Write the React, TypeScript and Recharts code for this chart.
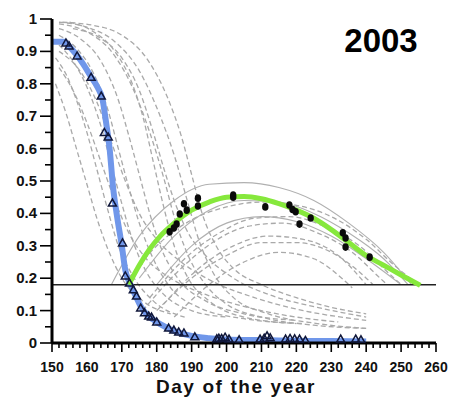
import React from "react";
import { ComposedChart, Line, Scatter, XAxis, YAxis, ReferenceLine } from "recharts";

type P = { x: number; y: number };

const xTicks = [150,152,154,156,158,160,162,164,166,168,170,172,174,176,178,180,182,184,186,188,190,192,194,196,198,200,202,204,206,208,210,212,214,216,218,220,222,224,226,228,230,232,234,236,238,240,242,244,246,248,250,252,254,256,258,260];
const yTicks = [0,0.05,0.1,0.15,0.2,0.25,0.3,0.35,0.4,0.45,0.5,0.55,0.6,0.65,0.7,0.75,0.8,0.85,0.9,0.95,1];
const thresholdValue = 0.18;
const yearTitle = "2003";
const xAxisTitle = "Day of the year";

const blueCurve: P[] = [
  {x:150,y:0.93},{x:153.5,y:0.93},{x:155,y:0.915},{x:157,y:0.89},{x:159,y:0.86},{x:161,y:0.825},{x:163,y:0.79},{x:164.5,y:0.75},{x:165.5,y:0.68},{x:166.5,y:0.6},{x:167.5,y:0.48},{x:168.5,y:0.4},{x:170,y:0.3},{x:171,y:0.225},{x:172.5,y:0.18},{x:174,y:0.145},{x:175.5,y:0.112},{x:177,y:0.09},{x:179,y:0.072},{x:181,y:0.058},{x:184,y:0.042},{x:187,y:0.03},{x:190,y:0.022},{x:195,y:0.015},{x:200,y:0.011},{x:210,y:0.009},{x:220,y:0.007},{x:230,y:0.006},{x:240,y:0.005}
];

const greenCurve: P[] = [
  {x:172,y:0.18},{x:175,y:0.24},{x:178,y:0.29},{x:181,y:0.33},{x:185,y:0.37},{x:190,y:0.41},{x:195,y:0.435},{x:200,y:0.45},{x:205,y:0.452},{x:210,y:0.445},{x:215,y:0.43},{x:220,y:0.41},{x:225,y:0.385},{x:230,y:0.35},{x:235,y:0.31},{x:240,y:0.27},{x:245,y:0.24},{x:250,y:0.21},{x:255.5,y:0.178}
];

const blueTriangles: P[] = [
  {x:154,y:0.926},{x:154.9,y:0.917},{x:157.2,y:0.886},{x:161.2,y:0.82},{x:164.1,y:0.762},{x:165,y:0.65},{x:166.1,y:0.636},{x:167.3,y:0.432},{x:170.2,y:0.309},{x:171,y:0.207},{x:172.2,y:0.185},{x:173.3,y:0.164},{x:174.2,y:0.145},{x:175.4,y:0.108},{x:176.5,y:0.093},{x:177.7,y:0.083},{x:178.5,y:0.08},{x:180,y:0.065},{x:183.4,y:0.046},{x:184.9,y:0.04},{x:186.3,y:0.034},{x:187.8,y:0.031},{x:190.9,y:0.019},{x:197.2,y:0.013},{x:197.8,y:0.015},{x:198.6,y:0.014},{x:199.6,y:0.018},{x:200.7,y:0.012},{x:203.6,y:0.01},{x:209.6,y:0.012},{x:210.8,y:0.015},{x:211.6,y:0.022},{x:212.5,y:0.016},{x:216.9,y:0.012},{x:218.2,y:0.014},{x:219.5,y:0.013},{x:220.9,y:0.012},{x:222.6,y:0.008},{x:232.7,y:0.012},{x:237,y:0.012},{x:238.5,y:0.01}
];

const blackDots: P[] = [
  {x:183.7,y:0.343},{x:184.9,y:0.355},{x:185.7,y:0.367},{x:186.6,y:0.398},{x:187.8,y:0.43},{x:188.6,y:0.41},{x:191.8,y:0.447},{x:191.8,y:0.423},{x:201.9,y:0.457},{x:201.9,y:0.45},{x:211.1,y:0.42},{x:218,y:0.426},{x:218.9,y:0.412},{x:219.8,y:0.405},{x:220.9,y:0.367},{x:224.1,y:0.386},{x:233.3,y:0.34},{x:234.1,y:0.324},{x:234.1,y:0.296},{x:241,y:0.265}
];

const greyDeclines: P[][] = [
  [{x:152,y:0.99},{x:160,y:0.975},{x:168,y:0.93},{x:175,y:0.84},{x:181,y:0.7},{x:185,y:0.58},{x:189,y:0.43},{x:192,y:0.32},{x:196,y:0.22},{x:202,y:0.14},{x:212,y:0.09},{x:226,y:0.06},{x:240,y:0.045}],
  [{x:152,y:0.985},{x:160,y:0.96},{x:167,y:0.9},{x:173,y:0.79},{x:178,y:0.65},{x:182,y:0.51},{x:185,y:0.39},{x:189,y:0.27},{x:194,y:0.18},{x:200,y:0.12},{x:210,y:0.08},{x:225,y:0.055},{x:240,y:0.045}],
  [{x:155,y:0.99},{x:162,y:0.96},{x:168,y:0.9},{x:173,y:0.8},{x:176,y:0.7},{x:179,y:0.56},{x:182,y:0.42},{x:185,y:0.3},{x:189,y:0.2},{x:195,y:0.13},{x:205,y:0.08},{x:220,y:0.06}],
  [{x:152,y:0.97},{x:158,y:0.94},{x:164,y:0.87},{x:169,y:0.75},{x:172,y:0.64},{x:175,y:0.52},{x:178,y:0.4},{x:181,y:0.3},{x:186,y:0.2},{x:194,y:0.13},{x:205,y:0.09},{x:220,y:0.07}],
  [{x:152,y:0.95},{x:157,y:0.91},{x:162,y:0.83},{x:166,y:0.72},{x:169,y:0.6},{x:172,y:0.48},{x:175,y:0.37},{x:179,y:0.26},{x:184,y:0.17},{x:192,y:0.11},{x:205,y:0.075},{x:222,y:0.06}],
  [{x:152,y:0.92},{x:156,y:0.87},{x:160,y:0.79},{x:164,y:0.67},{x:167,y:0.55},{x:170,y:0.43},{x:173,y:0.32},{x:177,y:0.22},{x:182,y:0.15},{x:190,y:0.1},{x:200,y:0.08}],
  [{x:151,y:0.88},{x:154,y:0.83},{x:157,y:0.75},{x:160,y:0.65},{x:163,y:0.53},{x:166,y:0.41},{x:169,y:0.3},{x:173,y:0.21},{x:179,y:0.13},{x:188,y:0.08}],
  [{x:151,y:0.8},{x:154,y:0.71},{x:157,y:0.6},{x:160,y:0.49},{x:163,y:0.38},{x:166,y:0.29},{x:170,y:0.2},{x:176,y:0.13},{x:184,y:0.09}],
  [{x:153,y:0.99},{x:162,y:0.98},{x:170,y:0.95},{x:177,y:0.88},{x:183,y:0.76},{x:187,y:0.64},{x:190,y:0.52},{x:193,y:0.4},{x:197,y:0.3},{x:202,y:0.23},{x:210,y:0.18},{x:220,y:0.14},{x:230,y:0.11},{x:240,y:0.09}],
  [{x:156,y:0.97},{x:164,y:0.94},{x:170,y:0.88},{x:175,y:0.78},{x:179,y:0.65},{x:182,y:0.54},{x:185,y:0.44},{x:189,y:0.34},{x:194,y:0.27},{x:202,y:0.2},{x:212,y:0.15},{x:226,y:0.11},{x:240,y:0.08}],
  [{x:152,y:0.9},{x:158,y:0.84},{x:163,y:0.74},{x:167,y:0.62},{x:171,y:0.5},{x:175,y:0.4},{x:180,y:0.32},{x:187,y:0.25},{x:196,y:0.19},{x:208,y:0.14},{x:222,y:0.1},{x:240,y:0.07}],
  [{x:152,y:0.85},{x:156,y:0.78},{x:160,y:0.68},{x:164,y:0.56},{x:168,y:0.44},{x:172,y:0.34},{x:177,y:0.26},{x:184,y:0.2},{x:194,y:0.15},{x:206,y:0.11},{x:220,y:0.08},{x:232,y:0.065}]
];

const greyDashedArches: P[][] = [
  [{x:172,y:0.2},{x:180,y:0.3},{x:190,y:0.38},{x:200,y:0.42},{x:210,y:0.435},{x:220,y:0.425},{x:230,y:0.39},{x:240,y:0.32},{x:248,y:0.24},{x:255,y:0.18}],
  [{x:176,y:0.1},{x:186,y:0.22},{x:196,y:0.31},{x:206,y:0.36},{x:216,y:0.37},{x:226,y:0.34},{x:236,y:0.28},{x:244,y:0.2},{x:246,y:0.18}],
  [{x:178,y:0.14},{x:188,y:0.26},{x:198,y:0.34},{x:208,y:0.385},{x:218,y:0.39},{x:228,y:0.36},{x:238,y:0.3},{x:246,y:0.22},{x:250,y:0.18}],
  [{x:182,y:0.12},{x:192,y:0.23},{x:202,y:0.3},{x:212,y:0.33},{x:222,y:0.32},{x:232,y:0.27},{x:240,y:0.18}],
  [{x:185,y:0.08},{x:195,y:0.18},{x:205,y:0.25},{x:215,y:0.28},{x:225,y:0.26},{x:233,y:0.2},{x:236,y:0.17}],
  [{x:180,y:0.1},{x:190,y:0.2},{x:200,y:0.27},{x:210,y:0.31},{x:220,y:0.31},{x:230,y:0.28},{x:238,y:0.22},{x:242,y:0.18}]
];

const greySolidArches: P[][] = [
  [{x:167,y:0.18},{x:175,y:0.33},{x:185,y:0.44},{x:195,y:0.49},{x:205,y:0.495},{x:215,y:0.48},{x:225,y:0.44},{x:235,y:0.37},{x:245,y:0.28},{x:253,y:0.18}],
  [{x:175,y:0.2},{x:185,y:0.33},{x:195,y:0.41},{x:205,y:0.44},{x:215,y:0.435},{x:225,y:0.4},{x:235,y:0.34},{x:245,y:0.26},{x:252,y:0.18}],
  [{x:180,y:0.18},{x:190,y:0.3},{x:200,y:0.37},{x:210,y:0.39},{x:220,y:0.375},{x:230,y:0.33},{x:240,y:0.26},{x:250,y:0.18}]
];

const FONT = "'Liberation Sans', Arial, sans-serif";

const XTick = (props: any) => {
  const { x, y, payload } = props;
  const v = payload.value as number;
  const major = v % 10 === 0;
  return (
    <g>
      <line x1={x} x2={x} y1={y} y2={y + (major ? 9 : 5)} stroke="#000" strokeWidth={1.6} />
      {major && (
        <text x={x} y={y + 29} textAnchor="middle" fontFamily={FONT} fontWeight="bold" fontSize={14} fill="#111">
          {String(v)}
        </text>
      )}
    </g>
  );
};

const YTick = (props: any) => {
  const { x, y, payload } = props;
  const v = payload.value as number;
  const major = Math.abs(v * 10 - Math.round(v * 10)) < 1e-6;
  const label = v === 0 ? "0" : v === 1 ? "1" : v.toFixed(1);
  return (
    <g>
      <line x1={x - (major ? 12 : 7)} x2={x} y1={y} y2={y} stroke="#000" strokeWidth={1.6} />
      {major && (
        <text x={x - 15} y={y + 5} textAnchor="end" fontFamily={FONT} fontWeight="bold" fontSize={15} fill="#111">
          {label}
        </text>
      )}
    </g>
  );
};

const TriangleShape = (props: any) => {
  const { cx, cy } = props;
  return (
    <polygon
      points={`${cx},${cy - 4} ${cx - 4},${cy + 3} ${cx + 4},${cy + 3}`}
      fill="none"
      stroke="#10173a"
      strokeWidth={1.5}
    />
  );
};

const DotShape = (props: any) => {
  const { cx, cy } = props;
  return <ellipse cx={cx} cy={cy} rx={3.2} ry={3.8} fill="#0a0a0a" />;
};

export default function App() {
  return (
    <div style={{ position: "absolute", left: 0, top: 0, width: 449, height: 399, background: "#fff" }}>
      <ComposedChart width={449} height={399} margin={{ top: 19, right: 13, left: 0, bottom: 0 }}>
        <XAxis
          type="number"
          dataKey="x"
          domain={[150, 260]}
          ticks={xTicks}
          interval={0}
          tick={<XTick />}
          tickLine={false}
          tickSize={0}
          tickMargin={0}
          height={56}
          axisLine={{ stroke: "#000", strokeWidth: 3 }}
          allowDataOverflow
        />
        <YAxis
          type="number"
          domain={[0, 1]}
          ticks={yTicks}
          interval={0}
          tick={<YTick />}
          tickLine={false}
          tickSize={0}
          tickMargin={0}
          width={52}
          axisLine={{ stroke: "#000", strokeWidth: 3 }}
          allowDataOverflow
        />
        {greyDeclines.map((d, i) => (
          <Line key={"dc" + i} data={d} dataKey="y" type="monotone" dot={false} stroke="#a9a9a9" strokeWidth={1.3} strokeDasharray="5 3" isAnimationActive={false} />
        ))}
        {greyDashedArches.map((d, i) => (
          <Line key={"da" + i} data={d} dataKey="y" type="monotone" dot={false} stroke="#a9a9a9" strokeWidth={1.3} strokeDasharray="5 3" isAnimationActive={false} />
        ))}
        {greySolidArches.map((d, i) => (
          <Line key={"sa" + i} data={d} dataKey="y" type="monotone" dot={false} stroke="#b0b0b0" strokeWidth={1.1} isAnimationActive={false} />
        ))}
        <ReferenceLine y={thresholdValue} stroke="#222" strokeWidth={1.5} />
        <Line data={blueCurve} dataKey="y" type="monotone" dot={false} stroke="#7097ea" strokeWidth={6} isAnimationActive={false} />
        <Line data={greenCurve} dataKey="y" type="monotone" dot={false} stroke="#86e83c" strokeWidth={5} isAnimationActive={false} />
        <Scatter data={blueTriangles} dataKey="y" shape={<TriangleShape />} isAnimationActive={false} />
        <Scatter data={blackDots} dataKey="y" shape={<DotShape />} isAnimationActive={false} />
      </ComposedChart>
      <svg width={449} height={399} style={{ position: "absolute", left: 0, top: 0, pointerEvents: "none" }}>
        <text x={381} y={52} textAnchor="middle" fontFamily={FONT} fontWeight="bold" fontSize={33} fill="#000">
          {yearTitle}
        </text>
        <text x={236} y={393} textAnchor="middle" fontFamily={FONT} fontWeight="bold" fontSize={19} letterSpacing={1.6} fill="#111">
          {xAxisTitle}
        </text>
      </svg>
    </div>
  );
}
